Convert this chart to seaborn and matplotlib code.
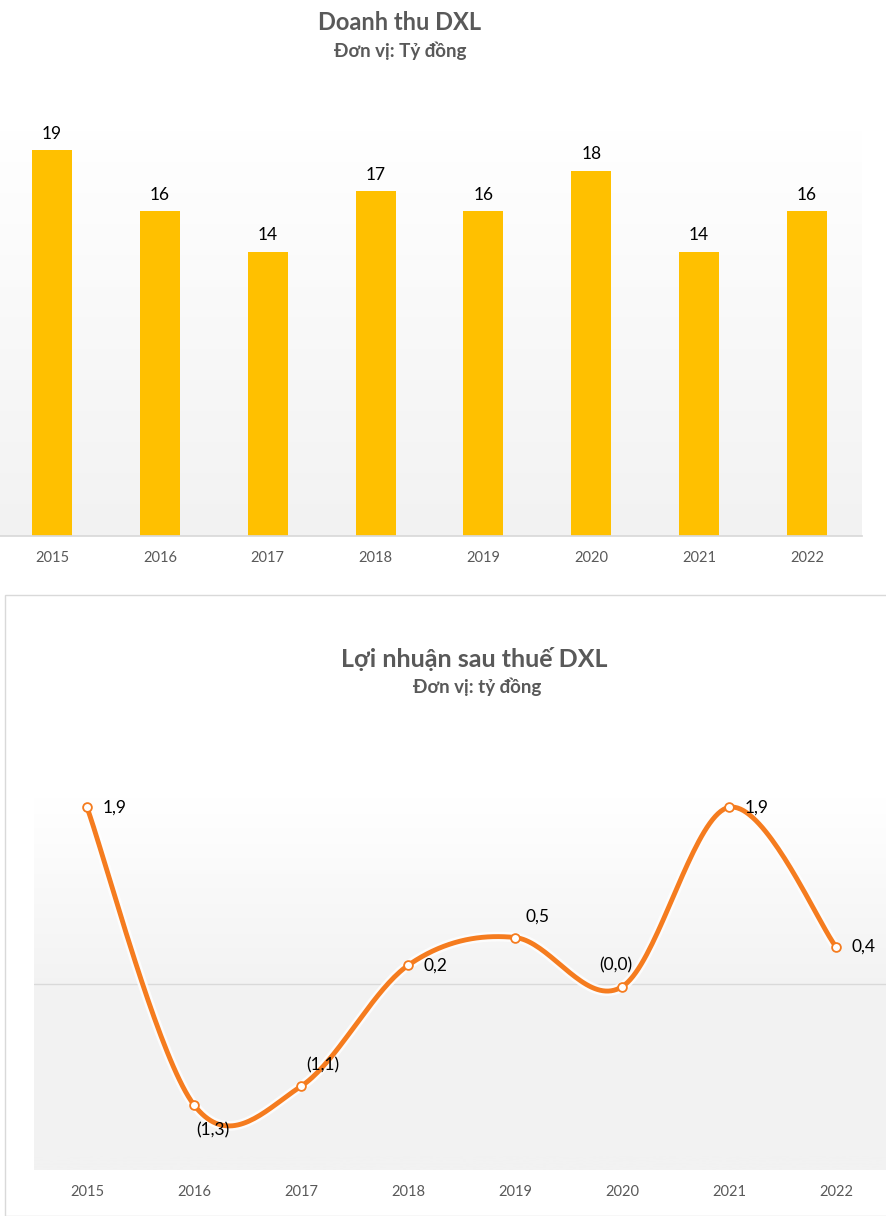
import numpy as np
import seaborn as sns
from matplotlib import pyplot as plt
from matplotlib.colors import LinearSegmentedColormap
from matplotlib.patches import Rectangle

years = ['2015', '2016', '2017', '2018', '2019', '2020', '2021', '2022']
revenue = [19, 16, 14, 17, 16, 18, 14, 16]
profit = [1.9, -1.3, -1.1, 0.2, 0.5, -0.03, 1.9, 0.4]

title_rev = 'Doanh thu DXL'
sub_rev = 'Đơn vị: Tỷ đồng'
title_prof = 'Lợi nhuận sau thuế DXL'
sub_prof = 'Đơn vị: tỷ đồng'

# label position for each profit point (dx, dy in px, ha)
prof_lab_pos = [(16, 0, 'left'), (19, 25, 'center'), (22, -21, 'center'), (16, 0, 'left'),
                (23, -21, 'center'), (-6, -21, 'center'), (16, 0, 'left'), (16, 0, 'left')]

sns.set_theme(style='white')
plt.rcParams['font.family'] = ['Lato', 'Open Sans', 'DejaVu Sans']

W, H = 886, 1216
fig = plt.figure(figsize=(W / 100, H / 100), dpi=100)


def box(l, t, r, b):
    return [l / W, 1 - b / H, (r - l) / W, (b - t) / H]


def fmt(v):
    s = f"{abs(v):.1f}".replace('.', ',')
    return f"({s})" if v < 0 else s


def smooth(xs, ys, n=40):
    # catmull-rom, like excel's "smoothed line"
    p = np.column_stack([xs, ys]).astype(float)
    p = np.vstack([p[0], p, p[-1]])
    t = np.linspace(0, 1, n)[:, None]
    out = []
    for i in range(1, len(p) - 2):
        p0, p1, p2, p3 = p[i - 1], p[i], p[i + 1], p[i + 2]
        seg = 0.5 * (2 * p1 + (-p0 + p2) * t + (2 * p0 - 5 * p1 + 4 * p2 - p3) * t ** 2
                     + (-p0 + 3 * p1 - 3 * p2 + p3) * t ** 3)
        out.append(seg)
    return np.vstack(out)


grey_txt = '#595959'
grad_cmap = LinearSegmentedColormap.from_list('g', ['#f2f2f2', '#ffffff'])

# ---------------- revenue bars
ax1 = fig.add_axes(box(0, 130, 862, 536))
xl1 = (-52 / 107.86, (862 - 52) / 107.86)
ax1.imshow(np.linspace(0, 1, 256)[:, None], extent=[xl1[0], xl1[1], 0, 20], origin='lower',
           aspect='auto', cmap=grad_cmap, zorder=0)
sns.barplot(x=years, y=revenue, color='#FFC000', width=0.37, saturation=1, ax=ax1,
            zorder=2, edgecolor='none', linewidth=0)
for i, v in enumerate(revenue):
    ax1.annotate(str(v), (i, v), xytext=(0, 6), textcoords='offset points', ha='center',
                 va='bottom', fontsize=12.5, color='black')
ax1.set_xlim(*xl1)
ax1.set_ylim(0, 20)
ax1.set_yticks([])
ax1.set_xlabel('')
ax1.set_ylabel('')
for s in ['top', 'left', 'right']:
    ax1.spines[s].set_visible(False)
ax1.spines['bottom'].set_color('#d9d9d9')
ax1.tick_params(axis='x', length=0, pad=11, labelsize=10.5, labelcolor=grey_txt)

fig.text(400 / W, 1 - 22 / H, title_rev, ha='center', va='center', fontsize=17,
         fontweight='bold', color=grey_txt)
fig.text(400 / W, 1 - 51 / H, sub_rev, ha='center', va='center', fontsize=13.5,
         fontweight='bold', color=grey_txt)

# ---------------- profit line
fig.add_artist(Rectangle((5 / W, 0), 1, 1 - 595 / H, transform=fig.transFigure,
                         facecolor='white', edgecolor='#d9d9d9', lw=1, zorder=0))

ax2 = fig.add_axes(box(34, 798, 886, 1170))
xl2 = ((34 - 87) / 107, (886 - 87) / 107)
grad2 = np.interp(np.linspace(-2, 2, 400), [-2, 0, 2], [0, 0.05, 1])[:, None]
ax2.imshow(grad2, extent=[xl2[0], xl2[1], -2, 2], origin='lower', aspect='auto',
           cmap=grad_cmap, vmin=0, vmax=1, zorder=0)
ax2.axhline(0, color='#d9d9d9', lw=1, zorder=1)

curve = smooth(range(len(profit)), profit)
ax2.plot(curve[:, 0], curve[:, 1], color='white', lw=7, alpha=0.8, zorder=2,
         solid_capstyle='round')
sns.lineplot(x=curve[:, 0], y=curve[:, 1], color='#F57C1F', lw=3.5, sort=False,
             ax=ax2, zorder=3)
sns.scatterplot(x=list(range(len(profit))), y=profit, s=40, facecolor='white',
                edgecolor='#F57C1F', linewidth=1.3, ax=ax2, zorder=4)
for i, v in enumerate(profit):
    dx, dy, ha = prof_lab_pos[i]
    ax2.annotate(fmt(v), (i, v), xytext=(dx * 0.72, -dy * 0.72), textcoords='offset points',
                 ha=ha, va='center', fontsize=12.5, color='black', zorder=5)

ax2.set_xlim(*xl2)
ax2.set_ylim(-2, 2)
ax2.set_xticks(range(len(years)))
ax2.set_xticklabels(years)
ax2.set_yticks([])
for s in ax2.spines.values():
    s.set_visible(False)
ax2.tick_params(axis='x', length=0, pad=11, labelsize=10.5, labelcolor=grey_txt)

fig.text(474 / W, 1 - 659 / H, title_prof, ha='center', va='center', fontsize=18,
         fontweight='bold', color=grey_txt)
fig.text(477 / W, 1 - 687 / H, sub_prof, ha='center', va='center', fontsize=13.5,
         fontweight='bold', color=grey_txt)

fig.savefig('out.png', dpi=100)
